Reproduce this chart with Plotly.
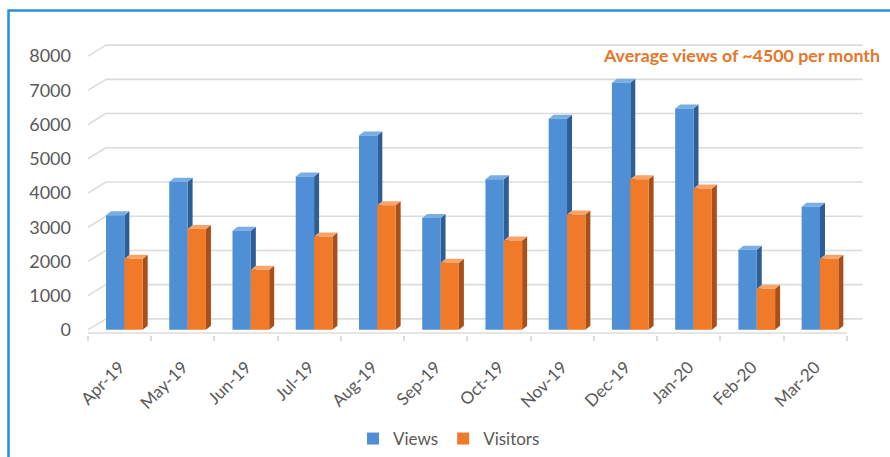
import plotly.graph_objects as go

months = ["Apr-19", "May-19", "Jun-19", "Jul-19", "Aug-19", "Sep-19",
          "Oct-19", "Nov-19", "Dec-19", "Jan-20", "Feb-20", "Mar-20"]
views = [3350, 4330, 2900, 4480, 5680, 3270, 4400, 6170, 7220, 6470, 2340, 3600]
visitors = [2080, 2950, 1760, 2730, 3640, 1960, 2610, 3370, 4400, 4130, 1200, 2080]
y_ticks = [0, 1000, 2000, 3000, 4000, 5000, 6000, 7000, 8000]
note = "Average views of ~4500 per month"

W, H = 890, 457
XR = [-0.5, 11.85]
YR = [-150, 8500]
L, R, T, B = 88, 21, 39, 122
pw = W - L - R
ph = H - T - B
ux = pw / (XR[1] - XR[0])   # px per category unit
uy = ph / (YR[1] - YR[0])   # px per value unit

def px_x(p):  # pixel -> paper x
    return (p - L) / pw

def px_y(p):  # pixel -> paper y
    return (H - B - p) / ph

TEXT = "#595959"
GRID = "#DCDCDC"
FONT = "Lato, 'Open Sans', sans-serif"

bw = 0.29
off_views = -0.215
off_vis = off_views + bw
ddx = 5 / ux
ddy = 4 / uy
back_dx = 18 / ux
back_dy = 11 / uy

series = [
    ("Views", views, off_views, "#4F8FD6", "#2D5E96", "#79AEE3"),
    ("Visitors", visitors, off_vis, "#F07A28", "#A9501A", "#F6A46A"),
]

fig = go.Figure()
for name, vals, off, front, side, top in series:
    fig.add_trace(go.Bar(
        x=list(range(len(months))), y=vals, name=name,
        width=bw, offset=off,
        marker=dict(color=front, line=dict(width=0)),
    ))

shapes = []
# back-wall gridlines with diagonal connectors
for v in y_ticks:
    shapes.append(dict(type="line", xref="x", yref="y", layer="below",
                       x0=XR[0] + back_dx, x1=11.5 + 0.25, y0=v + back_dy, y1=v + back_dy,
                       line=dict(color=GRID, width=1.6)))
    shapes.append(dict(type="line", xref="x", yref="y", layer="below",
                       x0=XR[0], x1=XR[0] + back_dx, y0=v, y1=v + back_dy,
                       line=dict(color=GRID, width=1.6)))
# floor front line
shapes.append(dict(type="line", xref="x", yref="y", layer="below",
                   x0=-0.5, x1=11.5, y0=-90, y1=-90,
                   line=dict(color=GRID, width=1.6)))
# 3D faces
for name, vals, off, front, side, top in series:
    for i, v in enumerate(vals):
        x0 = i + off
        x1 = x0 + bw
        shapes.append(dict(type="path", xref="x", yref="y", layer="below",
                           path=f"M {x1},0 L {x1+ddx},{ddy} L {x1+ddx},{v+ddy} L {x1},{v} Z",
                           fillcolor=side, line=dict(width=0)))
        shapes.append(dict(type="path", xref="x", yref="y", layer="below",
                           path=f"M {x0},{v} L {x1},{v} L {x1+ddx},{v+ddy} L {x0+ddx},{v+ddy} Z",
                           fillcolor=top, line=dict(width=0)))
# outer blue frame
shapes.append(dict(type="rect", xref="paper", yref="paper",
                   x0=px_x(8.5), x1=px_x(905), y0=px_y(470), y1=px_y(10.5),
                   line=dict(color="#2A8EDA", width=2.5), fillcolor="rgba(0,0,0,0)"))

fig.update_layout(
    width=W, height=H,
    margin=dict(l=L, r=R, t=T, b=B, pad=0, autoexpand=False),
    paper_bgcolor="white", plot_bgcolor="white",
    font=dict(family=FONT, color=TEXT),
    barmode="overlay",
    showlegend=True,
    legend=dict(orientation="h", x=px_x(449), xanchor="center",
                y=px_y(439), yanchor="middle", itemwidth=30,
                font=dict(size=17, color=TEXT, family=FONT)),
    shapes=shapes,
    annotations=[dict(text=f"<b>{note}</b>", xref="paper", yref="paper",
                      x=px_x(882), y=px_y(55), xanchor="right", yanchor="middle",
                      showarrow=False, font=dict(size=17.8, color="#E4762A", family=FONT))],
    xaxis=dict(range=XR, tickmode="array", tickvals=list(range(len(months))),
               ticktext=months, tickangle=-45, showgrid=False, zeroline=False,
               showline=False, ticks="", ticklabelstandoff=18, automargin=False,
               tickfont=dict(size=17, color=TEXT),
               minor=dict(tickvals=[i - 0.5 for i in range(len(months) + 1)],
                          ticks="outside", ticklen=5, tickwidth=1.5, tickcolor=GRID,
                          showgrid=False)),
    yaxis=dict(range=YR, tickmode="array", tickvals=y_ticks, showgrid=False,
               zeroline=False, showline=False, ticks="", ticklabelstandoff=16,
               automargin=False, tickfont=dict(size=18, color=TEXT)),
)

fig.write_html("out.html")
